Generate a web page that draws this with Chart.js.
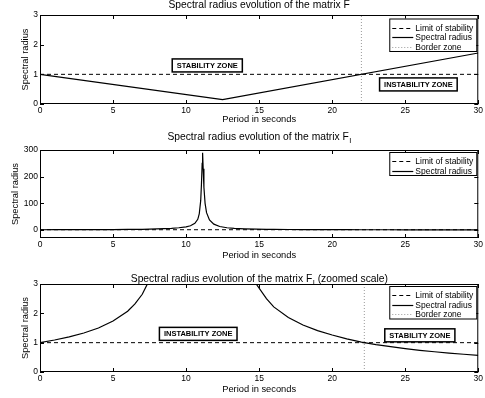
<!DOCTYPE html>
<html>
<head>
<meta charset="utf-8">
<script src="https://cdn.jsdelivr.net/npm/chart.js@4"></script>
<style>
  html, body { margin: 0; padding: 0; background: #fff; }
  #wrap { position: relative; width: 485px; height: 398px; }
  canvas { position: absolute; left: 0; }
</style>
</head>
<body>
<div id="wrap">
  <canvas id="c1" width="485" height="130" style="top:0px"></canvas>
  <canvas id="c2" width="485" height="135" style="top:130px"></canvas>
  <canvas id="c3" width="485" height="133" style="top:265px"></canvas>
</div>
<script>
var xTicks = [0, 5, 10, 15, 20, 25, 30];
var yTicksSmall = [0, 1, 2, 3];
var yTicksBig = [0, 100, 200, 300];

// spectral radius of F
var periodF = [0, 12.5, 30];
var radiusF = [1, 0.15, 1.72];

// spectral radius of F_I
var periodFI = [0, 1, 2, 3, 4, 5, 6, 6.5, 7, 7.5, 8, 8.5, 9, 9.5, 10,
  10.3, 10.6, 10.8, 10.9, 11.0, 11.05, 11.1, 11.13, 11.17, 11.22,
  11.3, 11.4, 11.6, 11.9, 12.3, 12.8, 13.3, 14, 14.8, 15.5,
  16, 17, 18, 19, 20, 21, 22, 23, 24, 25, 26, 27, 28, 29, 30];
var radiusFI = [1, 1.09, 1.2, 1.33, 1.5, 1.74, 2.07, 2.32, 2.65, 3.15, 3.9, 5.0, 6.3, 8.5, 12,
  16, 25, 40, 60, 110, 170, 250, 290, 230, 160,
  100, 65, 38, 22, 13, 8.5, 6, 4.2, 3, 2.5,
  2.22, 1.86, 1.6, 1.41, 1.26, 1.13, 1.02, 0.935, 0.865, 0.8, 0.74, 0.69, 0.645, 0.605, 0.57];

var limitPeriod = [0, 30];
var limitValue = [1, 1];
var borderSpan = [0, 3];
var borderF = 22;
var borderFI = 22.2;

var FONT = '"Liberation Sans", Arial, Helvetica, sans-serif';

function pts(xs, ys) {
  return xs.map(function(x, i) { return {x: x, y: ys[i]}; });
}
function vline(x) {
  return borderSpan.map(function(y) { return {x: x, y: y}; });
}

var framePlugin = {
  id: 'frame',
  afterDraw: function(chart, args, opts) {
    var ctx = chart.ctx, a = chart.chartArea;
    var xs = chart.scales.x, ys = chart.scales.y;
    ctx.save();

    // title with optional subscript
    var big = '10.3px ' + FONT, small = '7.5px ' + FONT;
    ctx.fillStyle = '#000';
    ctx.textBaseline = 'middle';
    ctx.textAlign = 'left';
    ctx.font = big;
    var w1 = ctx.measureText(opts.title).width;
    var w3 = opts.after ? ctx.measureText(opts.after).width : 0;
    ctx.font = small;
    var w2 = opts.sub ? ctx.measureText(opts.sub).width : 0;
    var x0 = (a.left + a.right) / 2 - (w1 + w2 + w3) / 2;
    ctx.font = big;
    ctx.fillText(opts.title, x0, opts.titleY);
    if (opts.sub) {
      ctx.font = small;
      ctx.fillText(opts.sub, x0 + w1 + 0.5, opts.titleY + 4);
      ctx.font = big;
      if (opts.after) ctx.fillText(opts.after, x0 + w1 + w2 + 0.5, opts.titleY);
    }

    // box + inward ticks
    ctx.strokeStyle = '#000';
    ctx.lineWidth = 1;
    ctx.setLineDash([]);
    ctx.strokeRect(a.left + 0.5, a.top + 0.5, a.right - a.left - 1, a.bottom - a.top - 1);
    ctx.beginPath();
    xTicks.forEach(function(v) {
      var p = Math.round(xs.getPixelForValue(v)) + 0.5;
      ctx.moveTo(p, a.bottom); ctx.lineTo(p, a.bottom - 4);
      ctx.moveTo(p, a.top); ctx.lineTo(p, a.top + 4);
    });
    (opts.yTicks || []).forEach(function(v) {
      var p = Math.round(ys.getPixelForValue(v)) + 0.5;
      ctx.moveTo(a.left, p); ctx.lineTo(a.left + 4, p);
      ctx.moveTo(a.right, p); ctx.lineTo(a.right - 4, p);
    });
    ctx.stroke();

    // zone labels
    ctx.font = 'bold 7.5px ' + FONT;
    ctx.textAlign = 'center';
    (opts.zones || []).forEach(function(z) {
      var cx = xs.getPixelForValue(z.x), cy = ys.getPixelForValue(z.y);
      var w = ctx.measureText(z.text).width + 9, h = 13;
      ctx.fillStyle = '#fff';
      ctx.fillRect(cx - w / 2, cy - h / 2, w, h);
      ctx.lineWidth = 1.5;
      ctx.strokeStyle = '#000';
      ctx.strokeRect(cx - w / 2, cy - h / 2, w, h);
      ctx.fillStyle = '#000';
      ctx.fillText(z.text, cx, cy + 0.5);
    });

    // legend in the upper right corner
    var sets = chart.data.datasets;
    var lw = 87, rowH = 9.5;
    var lx = a.right - 2 - lw, ly = a.top + opts.legendTop;
    var lh = 9 + rowH * (sets.length - 1) + 4.5;
    ctx.fillStyle = '#fff';
    ctx.fillRect(lx, ly, lw, lh);
    ctx.lineWidth = 1;
    ctx.strokeStyle = '#000';
    ctx.strokeRect(lx + 0.5, ly + 0.5, lw, lh);
    ctx.font = '8.5px ' + FONT;
    ctx.textAlign = 'left';
    sets.forEach(function(ds, i) {
      var y = Math.round(ly + 9 + i * rowH) + 0.5;
      ctx.beginPath();
      ctx.strokeStyle = ds.borderColor;
      ctx.lineWidth = ds.borderWidth;
      ctx.setLineDash(ds.borderDash || []);
      ctx.moveTo(lx + 3, y);
      ctx.lineTo(lx + 24, y);
      ctx.stroke();
      ctx.setLineDash([]);
      ctx.fillStyle = '#000';
      ctx.fillText(ds.label, lx + 26, y);
    });
    ctx.restore();
  }
};

function makeChart(id, cfg) {
  var yTicks = cfg.yTicks;
  var datasets = [
    {label: 'Limit of stability', data: pts(limitPeriod, limitValue),
     borderColor: '#000', borderWidth: 1, borderDash: [4, 3]},
    {label: 'Spectral radius', data: pts(cfg.period, cfg.radius),
     borderColor: '#000', borderWidth: 1.2}
  ];
  if (cfg.border !== undefined) {
    datasets.push({label: 'Border zone', data: vline(cfg.border),
      borderColor: '#9a9a9a', borderWidth: 1, borderDash: [1, 2]});
  }
  return new Chart(document.getElementById(id), {
    type: 'scatter',
    data: {datasets: datasets},
    options: {
      responsive: false,
      animation: false,
      devicePixelRatio: 1,
      showLine: true,
      elements: {point: {radius: 0}, line: {tension: 0}},
      layout: {padding: {top: cfg.areaTop, right: 5, left: 0, bottom: 0}},
      plugins: {
        legend: {display: false},
        tooltip: {enabled: false},
        frame: {title: cfg.title, sub: cfg.sub, after: cfg.after, titleY: cfg.titleY,
                yTicks: yTicks, zones: cfg.zones, legendTop: cfg.legendTop}
      },
      scales: {
        x: {
          type: 'linear', min: 0, max: 30,
          grid: {display: false, drawTicks: false},
          border: {display: false},
          afterBuildTicks: function(s) { s.ticks = xTicks.map(function(v) { return {value: v}; }); },
          afterFit: function(s) { s.height = cfg.xHeight; },
          ticks: {color: '#000', padding: 2, maxRotation: 0, autoSkip: false,
                  font: {family: FONT, size: 8.5}},
          title: {display: true, text: 'Period in seconds', color: '#000',
                  padding: {top: 0, bottom: cfg.xTitlePad}, font: {family: FONT, size: 9.3}}
        },
        y: {
          type: 'linear', min: cfg.yMin, max: cfg.yMax,
          grid: {display: false, drawTicks: false},
          border: {display: false},
          afterBuildTicks: function(s) { s.ticks = yTicks.map(function(v) { return {value: v}; }); },
          afterFit: function(s) { s.width = 40; },
          ticks: {color: '#000', padding: 2, autoSkip: false,
                  font: {family: FONT, size: 8.5}},
          title: {display: true, text: 'Spectral radius', color: '#000',
                  padding: {top: cfg.yTitlePad, bottom: 0}, font: {family: FONT, size: 9.3}}
        }
      }
    },
    plugins: [framePlugin]
  });
}

makeChart('c1', {
  period: periodF, radius: radiusF, border: borderF,
  yMin: 0, yMax: 3, yTicks: yTicksSmall,
  title: 'Spectral radius evolution of the matrix F', titleY: 5.5,
  areaTop: 15, xHeight: 26, xTitlePad: 5.4, yTitlePad: 19.4, legendTop: 3.5,
  zones: [{text: 'STABILITY ZONE', x: 11.45, y: 1.30},
          {text: 'INSTABILITY ZONE', x: 25.9, y: 0.66}]
});

makeChart('c2', {
  period: periodFI, radius: radiusFI,
  yMin: -30, yMax: 300, yTicks: yTicksBig,
  title: 'Spectral radius evolution of the matrix F', sub: 'I', after: '', titleY: 7,
  areaTop: 20, xHeight: 27, xTitlePad: 4.4, yTitlePad: 10, legendTop: 2,
  zones: []
});

makeChart('c3', {
  period: periodFI, radius: radiusFI, border: borderFI,
  yMin: 0, yMax: 3, yTicks: yTicksSmall,
  title: 'Spectral radius evolution of the matrix F', sub: 'I', after: ' (zoomed scale)', titleY: 14,
  areaTop: 19, xHeight: 26, xTitlePad: 3.4, yTitlePad: 19.4, legendTop: 2,
  zones: [{text: 'INSTABILITY ZONE', x: 10.83, y: 1.30},
          {text: 'STABILITY ZONE', x: 26.0, y: 1.25}]
});
</script>
</body>
</html>
